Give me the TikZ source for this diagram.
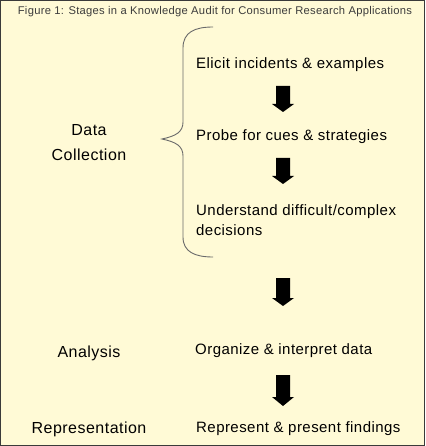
\documentclass[tikz,border=0pt]{standalone}
\usepackage{fontspec}
\setmainfont{Liberation Sans}[LetterSpace=3]
\newfontfamily\titlefont{Liberation Sans}[LetterSpace=2.5]
\definecolor{cream}{HTML}{FFFAD6}
\definecolor{frame}{HTML}{3A3A3A}
\definecolor{bracecol}{HTML}{6A6A6A}
\definecolor{titlecol}{HTML}{3C3C3C}
\newcommand{\blockarrow}[4]{%
  \fill[black] (#1-7,#2) -- (#1+7,#2) -- (#1+7,#3) -- (#1+11,#3) -- (#1,#4) -- (#1-11,#3) -- (#1-7,#3) -- cycle;}
\begin{document}
\begin{tikzpicture}[x=1pt,y=-1pt,
  txt/.style={inner sep=0pt,anchor=west,font=\fontsize{15}{20}\selectfont,text=black},
  stage/.style={inner sep=0pt,font=\fontsize{16}{25}\selectfont,align=center,text=black},
  ttl/.style={inner sep=0pt,font=\titlefont\fontsize{11.2}{13}\selectfont,text=titlecol}]
\useasboundingbox (0,0) rectangle (425,446);
\fill[cream] (0,0) rectangle (425,446);
\draw[frame,line width=1.2pt] (0.6,0.6) rectangle (424.4,445.4);
\node[ttl] (title) at (215,12) {Figure 1: Stages in a Knowledge Audit for Consumer Research Applications};
% brace
\draw[bracecol,line width=0.9pt] (213,27) .. controls (195,27) and (183,32) .. (183,48)
  -- (183,122) .. controls (183,132) and (176,136) .. (162,139)
  .. controls (176,142) and (183,146) .. (183,156)
  -- (183,237) .. controls (183,252) and (195,257) .. (213,257);
% right-hand steps
\node[txt] (elicit) at (196,65) {Elicit incidents \& examples};
\node[txt] (probe) at (196,137) {Probe for cues \& strategies};
\node[txt,align=left] (understand) at (196,220) {Understand difficult/complex\\decisions};
\node[txt] (organize) at (195,351) {Organize \& interpret data};
\node[txt] (represent) at (196,429) {Represent \& present findings};
% stages
\node[stage] (data) at (89,143) {Data\\Collection};
\node[stage] (analysis) at (89,353) {Analysis};
\node[stage] (representation) at (89,429) {Representation};
% arrows
\blockarrow{283}{86}{104}{112}
\blockarrow{283}{158}{176}{184}
\blockarrow{283}{278}{298}{306}
\blockarrow{283}{375}{397}{406}
\end{tikzpicture}
\end{document}
